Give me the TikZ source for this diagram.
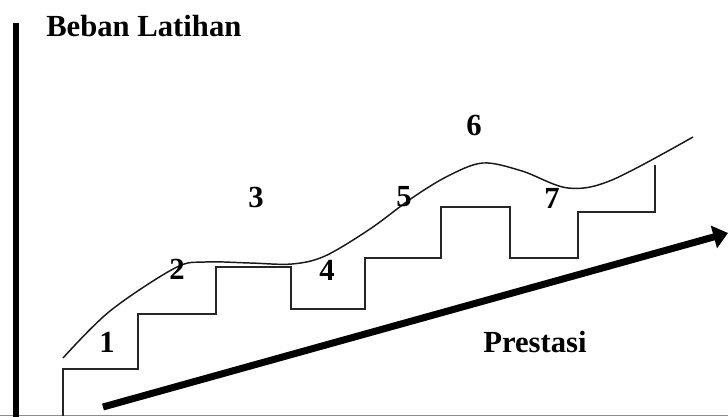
\documentclass[tikz,border=0pt]{standalone}
\usepackage{fontspec}
\setmainfont{Liberation Serif}
\usetikzlibrary{arrows.meta}

\tikzset{
  lbl/.style={font=\bfseries\fontsize{23}{27}\selectfont, inner sep=0pt},
  stair/.style={black!85, line width=1.5pt},
  beban/.style={black!90, line width=1.1pt, smooth, tension=0.55}
}

\begin{document}
\begin{tikzpicture}[x=0.75pt, y=-0.75pt]
       % 1. Frame of the picture, vertical axis and base line
       \useasboundingbox (0,0) rectangle (728,417);
       \draw[black!45, line width=1pt] (0,415.5) -- (728,415.5);
       \draw[line width=4.5pt] (16,23) -- (16,417);
       \node[lbl, anchor=base west] (beban) at (46,37) {Beban Latihan};

       % 2. Steps of the training load
       \draw[stair] (63,416) |- (138,369) |- (216,314) |- (291,267)
           |- (365,309) |- (441,258) |- (510,207) |- (578,258)
           |- (655,212) -- (655,165);

       % 3. Wave curve over the steps
       \draw[beban] plot coordinates {(63,358) (110,311) (175,268) (205,262)
           (250,263) (292,264) (325,256) (370,229) (412,198) (448,176)
           (483,163) (522,171) (568,188) (612,180) (693,137)};

       % 4. Numbers of the phases
       \node[lbl] (n1) at (107,342) {1};
       \node[lbl] (n2) at (177,269) {2};
       \node[lbl] (n3) at (256,197) {3};
       \node[lbl] (n4) at (327,270) {4};
       \node[lbl] (n5) at (404,197) {5};
       \node[lbl] (n6) at (474,125) {6};
       \node[lbl] (n7) at (552,198) {7};

       % 5. Arrow of the performance
       \coordinate (pstart) at (103,407);
       \coordinate (pend) at (728,233);
       \draw[line width=5.25pt, -{Triangle[length=11pt, width=17pt]}] (pstart) -- (pend);
       \node[lbl, anchor=base west] (prestasi) at (483,352) {Prestasi};
\end{tikzpicture}
\end{document}
